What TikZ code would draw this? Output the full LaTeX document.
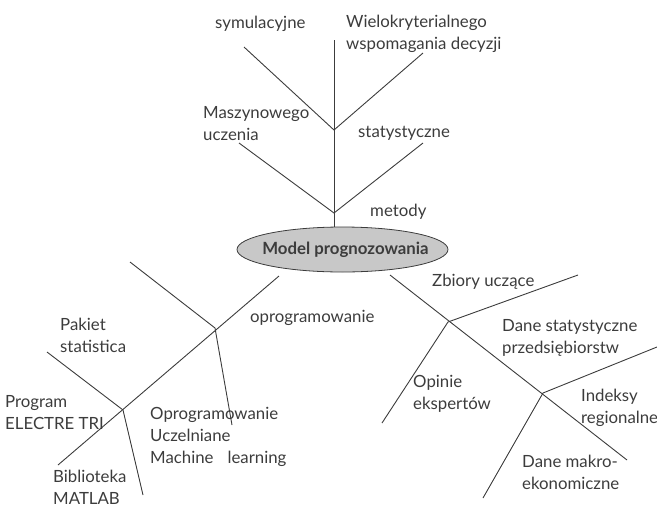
\documentclass[tikz,border=0pt]{standalone}
\usepackage{fontspec}
\setmainfont{Lato}
\usetikzlibrary{shapes.geometric}
\definecolor{ink}{HTML}{3C3C3C}
\definecolor{bubble}{HTML}{C8C8C8}
\tikzset{
  bone/.style={draw=ink, line width=0.9pt},
  lbl/.style={text=ink, font=\fontsize{16.8}{22}\selectfont, align=left, inner sep=0pt, anchor=west},
  hub/.style={ellipse, draw=ink, fill=bubble, line width=0.8pt, minimum width=211pt, minimum height=45pt, inner sep=0pt, font=\fontsize{16.8}{18}\selectfont\bfseries, text=ink}
}
\begin{document}
\begin{tikzpicture}[x=1pt, y=-1pt]
\useasboundingbox (0,0) rectangle (657,507);

% central node (text boxed at zero width so the ellipse keeps its size)
\node[hub] (e) at (342.5,249.5) {\makebox[0pt]{\hspace{6pt}Model prognozowania}};

% upper spine: methods
\coordinate (ttop) at (334,40);
\coordinate (tj1) at (334,130);
\coordinate (tj2) at (334,213);
\coordinate (tul) at (244,47);
\coordinate (tur) at (423,53);
\coordinate (tll) at (239,143);
\coordinate (tlr) at (423,143);
\draw[bone] (ttop) -- (ttop |- e.north);
\draw[bone] (tul) -- (tj1) -- (tur);
\draw[bone] (tll) -- (tj2) -- (tlr);

% left spine: software
\coordinate (ls) at (279,276);
\coordinate (le) at (58,465);
\coordinate (lj1) at (215,328);
\coordinate (lj2) at (123,410);
\coordinate (lb1) at (130,262);
\coordinate (ld1) at (232,425);
\coordinate (lb2) at (47,352);
\coordinate (ld2) at (143,495);
\draw[bone] (ls) -- (le);
\draw[bone] (lb1) -- (lj1) -- (ld1);
\draw[bone] (lb2) -- (lj2) -- (ld2);

% right spine: data
\coordinate (rs) at (390,275);
\coordinate (re) at (627,460);
\coordinate (rj1) at (448,322);
\coordinate (rj2) at (543,393);
\coordinate (ru1) at (578,275);
\coordinate (rd1) at (382,423);
\coordinate (ru2) at (657,347);
\coordinate (rd2) at (483,498);
\draw[bone] (rs) -- (re);
\draw[bone] (ru1) -- (rj1) -- (rd1);
\draw[bone] (ru2) -- (rj2) -- (rd2);

% labels, upper part
\node[lbl] (t1) at (215,24) {symulacyjne};
\node[lbl] (t2) at (346,33.5) {Wielokryterialnego\\wspomagania decyzji};
\node[lbl] (t3) at (203,124) {Maszynowego\\uczenia};
\node[lbl] (t4) at (358,133) {statystyczne};
\node[lbl] (t5) at (370,212) {metody};

% labels, left part
\node[lbl] (l1) at (250,318) {oprogramowanie};
\node[lbl] (l2) at (60,335) {Pakiet\\statistica};
\node[lbl] (l3) at (5,413) {Program\\ELECTRE TRI};
\node[lbl] (l4) at (150,436.5) {Oprogramowanie\\Uczelniane\\Machine\hspace{14pt}learning};
\node[lbl] (l5) at (53,487.5) {Biblioteka\\MATLAB};

% labels, right part
\node[lbl] (r1) at (432,282) {Zbiory uczące};
\node[lbl] (r2) at (502,337.5) {Dane statystyczne\\przedsiębiorstw};
\node[lbl] (r3) at (413,394) {Opinie\\ekspertów};
\node[lbl] (r4) at (581,407.5) {Indeksy\\regionalne};
\node[lbl] (r5) at (522,472.5) {Dane makro-\\ekonomiczne};
\end{tikzpicture}
\end{document}
